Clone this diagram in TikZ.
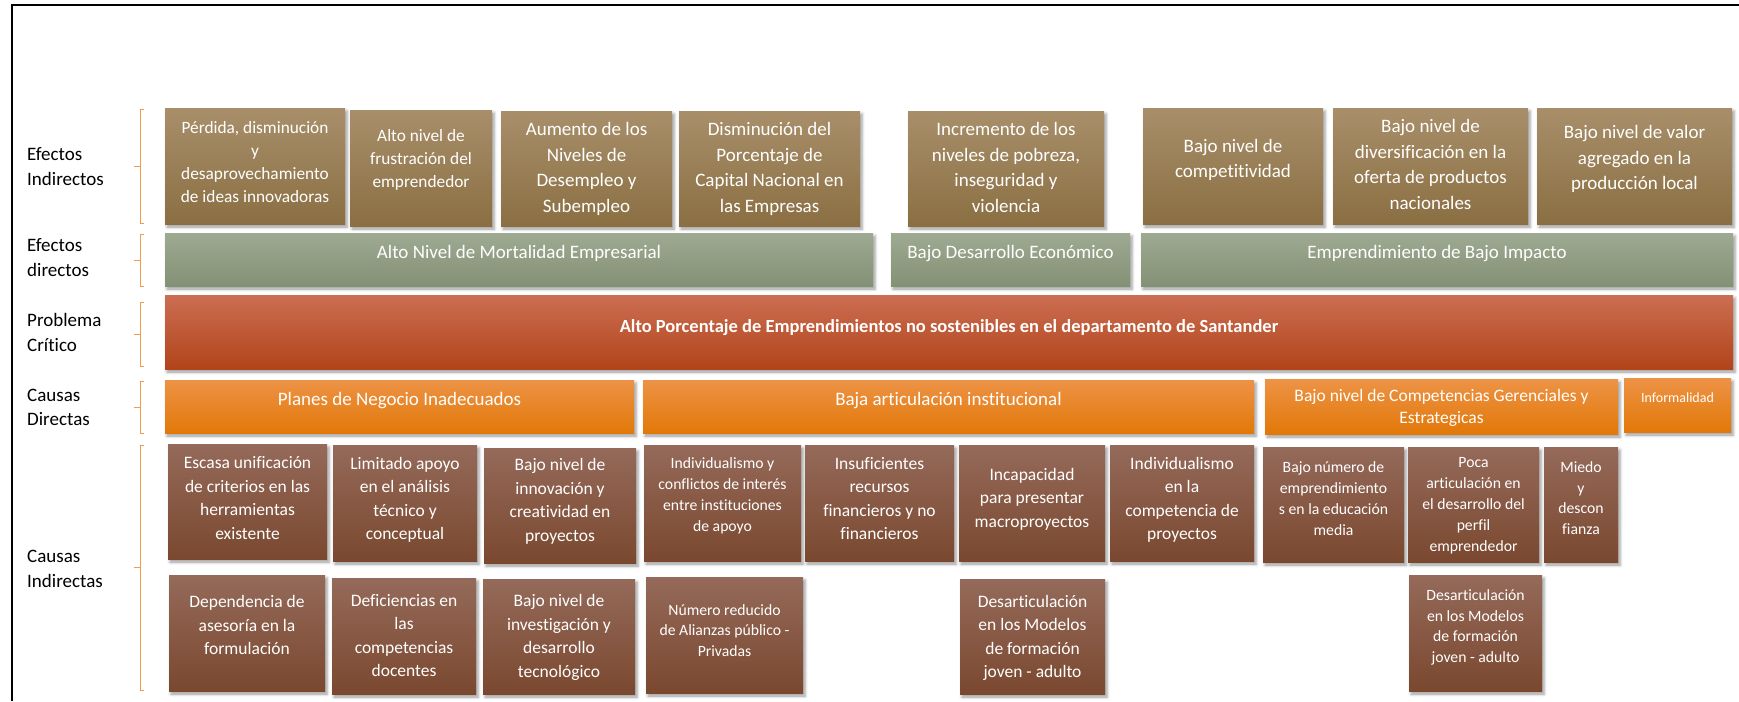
\documentclass[tikz,border=0pt]{standalone}
\usepackage{fontspec}
\setmainfont{Carlito}[Ligatures=NoCommon]
\usetikzlibrary{shadows,shadows.blur}
\definecolor{efArr}{RGB}{168,143,106}
\definecolor{efAba}{RGB}{139,111,67}
\definecolor{edArr}{RGB}{158,170,146}
\definecolor{edAba}{RGB}{131,145,117}
\definecolor{pcArr}{RGB}{203,110,82}
\definecolor{pcAba}{RGB}{178,68,26}
\definecolor{cdArr}{RGB}{237,147,70}
\definecolor{cdAba}{RGB}{226,120,8}
\definecolor{ciArr}{RGB}{149,106,90}
\definecolor{ciAba}{RGB}{122,72,47}
\definecolor{llaveColor}{RGB}{236,158,78}
\tikzset{
    caja/.style={
        inner sep=0pt,
        align=center,
        text=white,
        blur shadow={shadow xshift=2pt, shadow yshift=-3pt, shadow blur radius=3pt, shadow opacity=40}
    },
    medida/.style 2 args={minimum width=#1pt, minimum height=#2pt},
    efecto/.style={caja, top color=efArr, bottom color=efAba,
        font=\fontsize{19}{25.5}\selectfont, text depth=2pt},
    efectoChico/.style={efecto, font=\fontsize{17.3}{23.3}\selectfont},
    efectoDir/.style={caja, top color=edArr, bottom color=edAba,
        font=\fontsize{19}{23}\selectfont, text height=4pt, text depth=6pt},
    critico/.style={caja, top color=pcArr, bottom color=pcAba,
        font=\fontsize{18.5}{22}\selectfont\bfseries, text height=5pt, text depth=5pt},
    causaDir/.style={caja, top color=cdArr, bottom color=cdAba,
        font=\fontsize{19}{23}\selectfont},
    causaDirUna/.style={causaDir, text height=5pt, text depth=7pt},
    causaInd/.style={caja, top color=ciArr, bottom color=ciAba,
        font=\fontsize{17.5}{23.5}\selectfont, text depth=9pt},
    causaChica/.style={causaInd, font=\fontsize{15.7}{20.8}\selectfont, text depth=12pt},
    etiqueta/.style={anchor=west, inner sep=0pt, align=left,
        font=\fontsize{19}{24.5}\selectfont},
    llave/.style={draw=llaveColor, line width=1pt}
}

\begin{document}
\begin{tikzpicture}[x=1pt, y=-1pt]
    \useasboundingbox (0,0) rectangle (1739,701);
    % marco
    \draw[line width=2pt] (12,701) -- (12,5) -- (1739,5);

    % etiquetas de nivel
    \node[etiqueta] (lblEI) at (27,166.5) {Efectos\\Indirectos};
    \node[etiqueta] (lblED) at (27,257.5) {Efectos\\directos};
    \node[etiqueta] (lblPC) at (27,332.5) {Problema\\Crítico};
    \node[etiqueta] (lblCD) at (27,407.5) {Causas\\Directas};
    \node[etiqueta] (lblCI) at (27,568.7) {Causas\\Indirectas};

    % llaves
    \foreach \ya/\yb in {109/223, 234/286, 302/366, 381/433, 445/690}
        \draw[llave] (144,\ya) -- (140,\ya) -- (140,\yb) -- (144,\yb)
            (140,{(\ya+\yb)/2}) -- (134,{(\ya+\yb)/2});

    % 1. Efectos indirectos
    \node[efectoChico, medida={180}{116}, text depth=8pt] (ei1) at (255,166) {Pérdida, disminución\\y\\desaprovechamiento\\de ideas innovadoras};
    \node[efectoChico, medida={142}{116}, text depth=19pt] (ei2) at (421,168) {Alto nivel de\\frustración del\\emprendedor};
    \node[efecto, medida={171}{115}] (ei3) at (586.5,168.5) {Aumento de los\\Niveles de\\Desempleo y\\Subempleo};
    \node[efecto, medida={181}{115}] (ei4) at (769.5,168.5) {Disminución del\\Porcentaje de\\Capital Nacional en\\las Empresas};
    \node[efecto, medida={196}{115}] (ei5) at (1006,168.5) {Incremento de los\\niveles de pobreza,\\inseguridad y\\violencia};
    \node[efecto, medida={180}{116}, text depth=15pt] (ei6) at (1233,166) {Bajo nivel de\\competitividad};
    \node[efecto, medida={195}{116}, text depth=3pt] (ei7) at (1430.5,166) {Bajo nivel de\\diversificación en la\\oferta de productos\\nacionales};
    \node[efecto, medida={195}{116}, text depth=17pt] (ei8) at (1634.5,166) {Bajo nivel de valor\\agregado en la\\producción local};

    % 2. Efectos directos
    \node[efectoDir, medida={708}{53}] (ed1) at (519,259.5) {Alto Nivel de Mortalidad Empresarial};
    \node[efectoDir, medida={239}{53}] (ed2) at (1010.5,259.5) {Bajo Desarrollo Económico};
    \node[efectoDir, medida={592}{53}] (ed3) at (1437,259.5) {Emprendimiento de Bajo Impacto};

    % 3. Problema critico
    \node[critico, medida={1568}{74}] (pc) at (949,332) {Alto Porcentaje de Emprendimientos no sostenibles en el departamento de Santander};

    % 4. Causas directas
    \node[causaDirUna, medida={469}{53}] (cd1) at (399.5,406.5) {Planes de Negocio Inadecuados};
    \node[causaDirUna, medida={611}{53}] (cd2) at (948.5,406.5) {Baja articulación institucional};
    \node[causaDir, medida={353}{55}, font=\fontsize{17.5}{22}\selectfont, text depth=-4pt] (cd3) at (1441.5,406.5) {Bajo nivel de Competencias Gerenciales y\\Estrategicas};
    \node[causaDir, medida={107}{54}, font=\fontsize{14}{17}\selectfont, text height=2pt, text depth=8pt] (cd4) at (1677.5,405) {Informalidad};

    % 5. Causas indirectas, primera fila
    \node[causaInd, medida={159}{115}, text depth=7pt] (ci1) at (247.5,501.5) {Escasa unificación\\de criterios en las\\herramientas\\existente};
    \node[causaInd, medida={144}{116}] (ci2) at (405,503) {Limitado apoyo\\en el análisis\\técnico y\\conceptual};
    \node[causaInd, medida={152}{115}, text depth=11pt] (ci3) at (560,505.5) {Bajo nivel de\\innovación y\\creatividad en\\proyectos};
    \node[causaChica, medida={157}{116}, text depth=17pt] (ci4) at (722.5,503) {Individualismo y\\conflictos de interés\\entre instituciones\\de apoyo};
    \node[causaInd, medida={149}{116}] (ci5) at (879.5,503) {Insuficientes\\recursos\\financieros y no\\financieros};
    \node[causaInd, medida={146}{116}, text depth=11pt] (ci6) at (1032,503) {Incapacidad\\para presentar\\macroproyectos};
    \node[causaInd, medida={144}{116}] (ci7) at (1182,503) {Individualismo\\en la\\competencia de\\proyectos};
    \node[causaChica, medida={141}{115}] (ci8) at (1333.5,504.5) {Bajo número de\\emprendimiento\\s en la educación\\media};
    \node[causaChica, medida={131}{115}, text depth=-11pt] (ci9) at (1473.5,504.5) {Poca\\articulación en\\el desarrollo del\\perfil\\emprendedor};
    \node[causaChica, medida={74}{115}, text depth=13pt] (ci10) at (1581,504.5) {Miedo\\y\\descon\\fianza};

    % 6. Causas indirectas, segunda fila
    \node[causaInd, medida={156}{116}, text depth=16pt] (ci11) at (247,633) {Dependencia de\\asesoría en la\\formulación};
    \node[causaInd, medida={144}{116}, text depth=1pt] (ci12) at (404,636) {Deficiencias en\\las\\competencias\\docentes};
    \node[causaInd, medida={152}{115}, text depth=1pt] (ci13) at (559,636.5) {Bajo nivel de\\investigación y\\desarrollo\\tecnológico};
    \node[causaChica, medida={157}{116}, text depth=9pt] (ci14) at (724.5,635) {Número reducido\\de Alianzas público -\\Privadas};
    \node[causaInd, medida={145}{115}, text depth=-7pt] (ci15) at (1032.5,636.5) {Desarticulación\\en los Modelos\\de formación\\joven - adulto};
    \node[causaChica, medida={133}{116}, text depth=14pt] (ci16) at (1475.5,633) {Desarticulación\\en los Modelos\\de formación\\joven - adulto};
\end{tikzpicture}
\end{document}
